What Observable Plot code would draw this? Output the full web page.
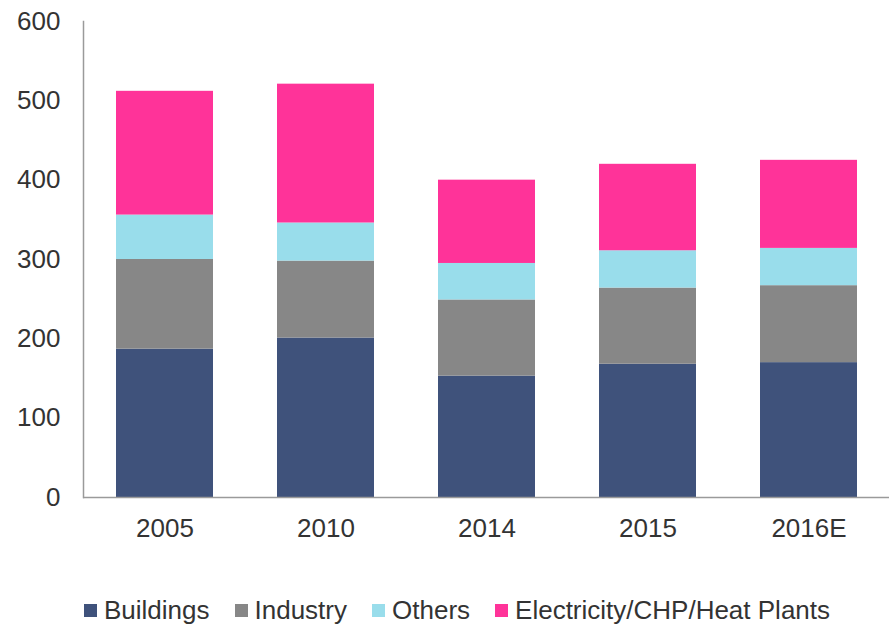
<!DOCTYPE html>
<html>
<head>
<meta charset="utf-8">
<script src="https://cdn.jsdelivr.net/npm/d3@7"></script>
<script src="https://cdn.jsdelivr.net/npm/@observablehq/plot@0.6"></script>
<style>
  html, body { margin: 0; padding: 0; background: #fff; }
  body { width: 891px; height: 625px; overflow: hidden; font-family: "Liberation Sans", Arial, sans-serif; }
  #chart svg { display: block; }
  #legend { display: flex; align-items: center; padding-left: 84px; height: 30px; margin-top: 25px; font-size: 26px; color: #333; }
  .item { display: flex; align-items: center; margin-right: 25px; }
  .sw { width: 13px; height: 13px; margin-right: 7px; }
</style>
</head>
<body>
<div id="chart"></div>
<div id="legend"></div>
<script>
const years = ["2005", "2010", "2014", "2015", "2016E"];
const seriesNames = ["Buildings", "Industry", "Others", "Electricity/CHP/Heat Plants"];
const buildings = [187, 201, 153, 168, 170];
const industry = [113, 97, 96, 96, 97];
const others = [56, 48, 46, 47, 47];
const electricity = [156, 175, 105, 109, 111];
const colors = ["#3F527B", "#878787", "#99DDEB", "#FF3399"];
const yTicks = [0, 100, 200, 300, 400, 500, 600];

const seriesValues = [buildings, industry, others, electricity];
const data = [];
seriesNames.forEach((s, si) => {
  years.forEach((y, yi) => data.push({year: y, series: s, value: seriesValues[si][yi]}));
});

const plot = Plot.plot({
  width: 891,
  height: 570,
  marginTop: 21,
  marginBottom: 73,
  marginLeft: 83,
  marginRight: 2,
  style: {fontFamily: "Liberation Sans, Arial, sans-serif", fontSize: "26px", color: "#333", background: "#fff"},
  x: {domain: years, paddingInner: 0.4, paddingOuter: 0.2, label: null},
  y: {domain: [0, 600], label: null},
  color: {domain: seriesNames, range: colors},
  marks: [
    Plot.barY(data, {x: "year", y: "value", fill: "series", order: seriesNames}),
    Plot.frame({anchor: "left", stroke: "#9a9a9a", strokeWidth: 1.5}),
    Plot.ruleY([0], {stroke: "#9a9a9a", strokeWidth: 1.5}),
    Plot.axisY(yTicks, {tickSize: 0, tickPadding: 23, fontSize: 26, fill: "#333", label: null}),
    Plot.axisX({tickSize: 0, tickPadding: 21, fontSize: 26, fill: "#333", label: null})
  ]
});
document.getElementById("chart").appendChild(plot);

const legend = document.getElementById("legend");
seriesNames.forEach((s, i) => {
  const item = document.createElement("div");
  item.className = "item";
  const sw = document.createElement("div");
  sw.className = "sw";
  sw.style.background = colors[i];
  const t = document.createElement("span");
  t.textContent = s;
  item.appendChild(sw);
  item.appendChild(t);
  legend.appendChild(item);
});
</script>
</body>
</html>
